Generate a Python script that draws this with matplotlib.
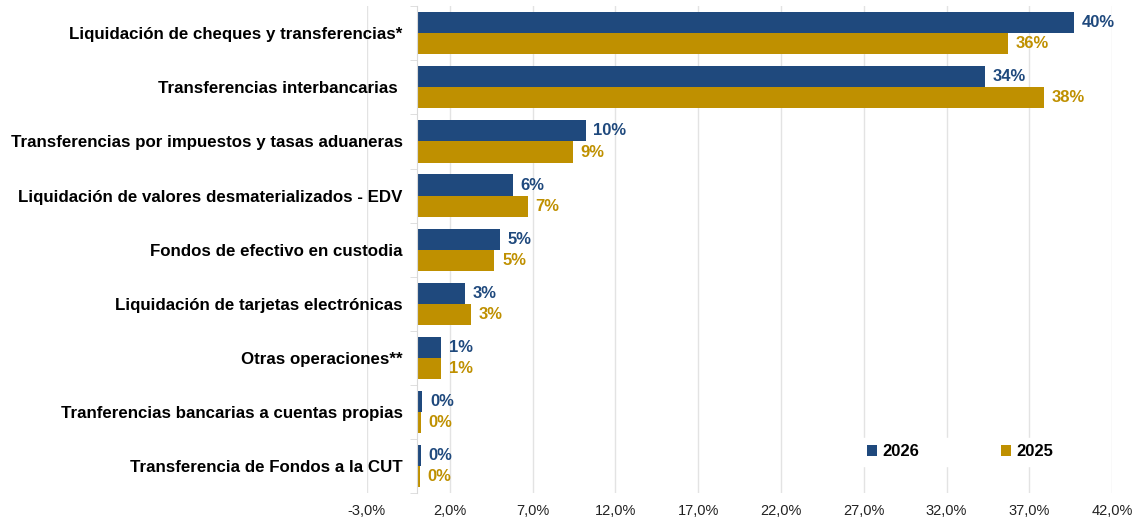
import matplotlib.pyplot as plt
from matplotlib.ticker import FuncFormatter

plt.rcParams['font.family'] = ['Liberation Sans', 'DejaVu Sans']

# datos
categorias = ['Liquidación de cheques y transferencias*',
              'Transferencias interbancarias ',
              'Transferencias por impuestos y tasas aduaneras',
              'Liquidación de valores desmaterializados - EDV',
              'Fondos de efectivo en custodia',
              'Liquidación de tarjetas electrónicas',
              'Otras operaciones**',
              'Tranferencias bancarias a cuentas propias',
              'Transferencia de Fondos a la CUT']

v2026 = [39.7, 34.3, 10.2, 5.8, 5.05, 2.9, 1.5, 0.35, 0.25]
v2025 = [35.7, 37.9, 9.45, 6.7, 4.7, 3.3, 1.5, 0.27, 0.2]
etiquetas_2026 = ['40%', '34%', '10%', '6%', '5%', '3%', '1%', '0%', '0%']
etiquetas_2025 = ['36%', '38%', '9%', '7%', '5%', '3%', '1%', '0%', '0%']

azul = '#1F497D'
dorado = '#BF9000'

fig = plt.figure(figsize=(11.36, 5.17), dpi=100)
ax = fig.add_axes([0.323, 0.046, 0.656, 0.942])

n = len(categorias)
y = list(range(n))
h = 0.39
b1 = ax.barh([i - h / 2 for i in y], v2026, height=h, color=azul, label='2026')
b2 = ax.barh([i + h / 2 for i in y], v2025, height=h, color=dorado, label='2025')

ax.bar_label(b1, labels=etiquetas_2026, padding=5.5, color=azul,
             fontsize=12, fontweight='bold')
ax.bar_label(b2, labels=etiquetas_2025, padding=5.5, color=dorado,
             fontsize=12, fontweight='bold')

ax.set_ylim(n - 0.5, -0.5)
ax.set_xlim(-3, 42)
ax.set_xticks(range(-3, 43, 5))
ax.xaxis.set_major_formatter(FuncFormatter(lambda x, p: f'{x:.1f}%'.replace('.', ',')))
ax.tick_params(axis='x', length=0, labelsize=10.5, pad=8, colors='#222222')
ax.grid(axis='x', color='#e3e3e3', linewidth=1)
ax.set_axisbelow(True)

# eje vertical en cero
for s in ['top', 'right', 'bottom']:
    ax.spines[s].set_visible(False)
ax.spines['left'].set_position(('data', 0))
ax.spines['left'].set_color('#d9d9d9')
ax.set_yticks(y)
ax.set_yticklabels(categorias, fontsize=12.2, fontweight='bold')
ax.set_yticks([i - 0.5 for i in range(n + 1)], minor=True)
ax.tick_params(axis='y', which='major', length=0, pad=10)
ax.tick_params(axis='y', which='minor', length=5, color='#d9d9d9')

leg = ax.legend(loc='center', bbox_to_anchor=(0.796, 0.085), ncol=2, frameon=True,
                edgecolor='white', framealpha=1, handlelength=0.6, handleheight=0.6,
                columnspacing=4.9, handletextpad=0.35, prop={'weight': 'bold', 'size': 12},
                fancybox=False)

fig.savefig('out.png', dpi=100)
